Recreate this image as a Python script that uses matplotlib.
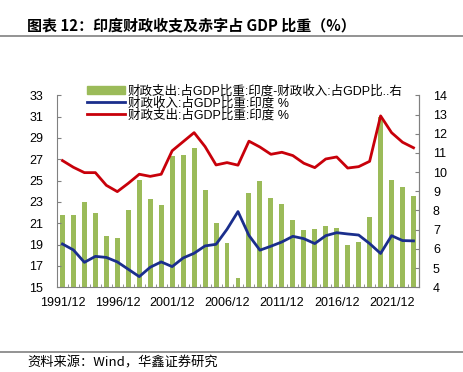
import numpy as np
import matplotlib.pyplot as plt
from matplotlib.lines import Line2D

plt.rcParams['font.family'] = ['Liberation Sans', 'Noto Sans CJK SC', 'DejaVu Sans']

years = list(range(1991, 2024))
# 财政支出-财政收入 (右轴)
deficit = [7.77, 7.75, 8.43, 7.87, 6.69, 6.57, 8.02, 9.58, 8.58, 8.27,
           10.84, 10.88, 11.24, 9.07, 7.37, 6.32, 4.48, 8.93, 9.52, 8.63,
           8.33, 7.52, 6.97, 7.03, 7.17, 7.09, 6.20, 6.35, 7.66, 12.85,
           9.60, 9.21, 8.76]
# 财政收入 (左轴)
revenue = [19.06, 18.50, 17.34, 17.90, 17.80, 17.38, 16.69, 16.00, 16.88, 17.38,
           16.94, 17.75, 18.19, 18.88, 19.03, 20.44, 22.10, 19.86, 18.48, 18.85,
           19.25, 19.78, 19.56, 19.10, 19.84, 20.12, 20.00, 19.90, 19.10, 18.17,
           19.84, 19.38, 19.35]
# 财政支出 (左轴)
spending = [26.88, 26.25, 25.75, 25.75, 24.56, 23.97, 24.75, 25.60, 25.40, 25.60,
            27.80, 28.65, 29.50, 28.19, 26.47, 26.69, 26.45, 28.70, 28.15, 27.47,
            27.66, 27.35, 26.63, 26.22, 27.03, 27.22, 26.18, 26.31, 26.81, 31.07,
            29.50, 28.60, 28.08]
tick_labels = ['1991/12', '1996/12', '2001/12', '2006/12', '2011/12', '2016/12', '2021/12']

green = '#9BBB59'
blue = '#1A2E8C'
red = '#C8000A'
gray = '#808080'

fig = plt.figure(figsize=(4.64, 3.72), dpi=100)
ax = fig.add_axes([0.1228, 0.2277, 0.9030 - 0.1228, 0.7438 - 0.2277])
ax2 = ax.twinx()
ax.set_zorder(ax2.get_zorder() + 1)
ax.patch.set_visible(False)

x = np.arange(len(years))
ax2.bar(x, deficit, width=0.45, bottom=0, color=green, zorder=1)
ax2.set_ylim(4, 14)
ax2.set_yticks(range(4, 15))

ax.plot(x, revenue, color=blue, lw=2)
ax.plot(x, spending, color=red, lw=2)
ax.set_ylim(15, 33)
ax.set_yticks(range(15, 34, 2))
ax.set_xlim(-0.45, len(years) - 0.55)

ax.set_xticks([years.index(int(t[:4])) for t in tick_labels])
ax.set_xticklabels(tick_labels)
ax.set_xticks(np.arange(-0.5, len(years), 1), minor=True)

for a in (ax, ax2):
    a.spines['top'].set_visible(False)
    for s in a.spines.values():
        s.set_color(gray)
        s.set_linewidth(0.8)
    a.tick_params(labelsize=9, colors='black', pad=2)
ax.tick_params(axis='y', direction='in', length=3, color=gray, pad=10)
ax2.tick_params(axis='y', direction='in', length=3, color=gray, pad=10)
ax.tick_params(axis='x', which='major', length=0, pad=7)
ax.tick_params(axis='x', which='minor', direction='in', length=2.5, color=gray)
ax2.spines['left'].set_visible(False)
ax2.spines['bottom'].set_visible(False)

handles = [plt.Rectangle((0, 0), 1, 1, color=green),
           Line2D([], [], color=blue, lw=2),
           Line2D([], [], color=red, lw=2)]
labels = ['财政支出:占GDP比重:印度-财政收入:占GDP比..右',
          '财政收入:占GDP比重:印度 %',
          '财政支出:占GDP比重:印度 %']
ax.legend(handles, labels, loc='upper left', bbox_to_anchor=(0.07, 1.08),
          frameon=False, fontsize=9, handlelength=3.0, handleheight=0.65,
          labelspacing=-0.05, handletextpad=0.25, borderaxespad=0)

fig.text(27 / 464, 1 - 25 / 372, '图表 12：印度财政收支及赤字占 GDP 比重（%）',
         fontsize=10.8, fontweight='bold', va='center', ha='left',
         family=['Noto Sans CJK SC', 'DejaVu Sans'])
fig.add_artist(Line2D([0, 1], [1 - 36 / 372, 1 - 36 / 372], color=gray, lw=1.2))
fig.add_artist(Line2D([0, 1], [1 - 352 / 372, 1 - 352 / 372], color=gray, lw=1.2))
fig.text(27 / 464, 1 - 363 / 372, '资料来源：Wind，华鑫证券研究', fontsize=9.5,
         va='center', ha='left', family=['Noto Sans CJK SC', 'DejaVu Sans'])

fig.savefig('out.png', dpi=100)
